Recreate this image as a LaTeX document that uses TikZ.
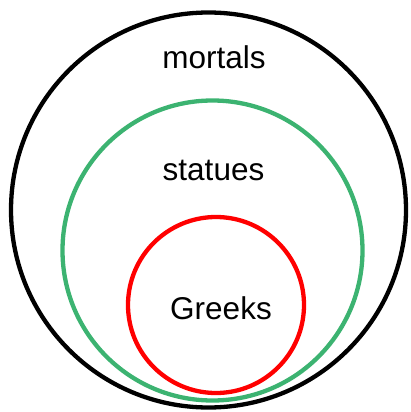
\documentclass[tikz,border=0pt]{standalone}
\usepackage{fontspec}
\setmainfont{Liberation Sans}
\definecolor{setgreen}{RGB}{60,179,113}
\begin{document}
\begin{tikzpicture}[x=1pt,y=-1pt,
  setcircle/.style={circle,draw,line width=4.3pt,inner sep=0pt,fill=none},
  setlabel/.style={anchor=base,inner sep=0pt,font=\fontsize{31.5}{36}\selectfont}]
\useasboundingbox (0,0) rectangle (410,412);
\node[setcircle,draw=black,minimum size=395pt] (mortalsC) at (208.5,210) {};
\node[setcircle,draw=setgreen,minimum size=300pt] (statuesC) at (212.5,250.5) {};
\node[setcircle,draw=red,minimum size=176pt] (greeksC) at (216,305) {};
\node[setlabel] (mortals) at (214,69) {mortals};
\node[setlabel] (statues) at (213.5,180) {statues};
\node[setlabel] (greeks) at (221,319) {Greeks};
\end{tikzpicture}
\end{document}
